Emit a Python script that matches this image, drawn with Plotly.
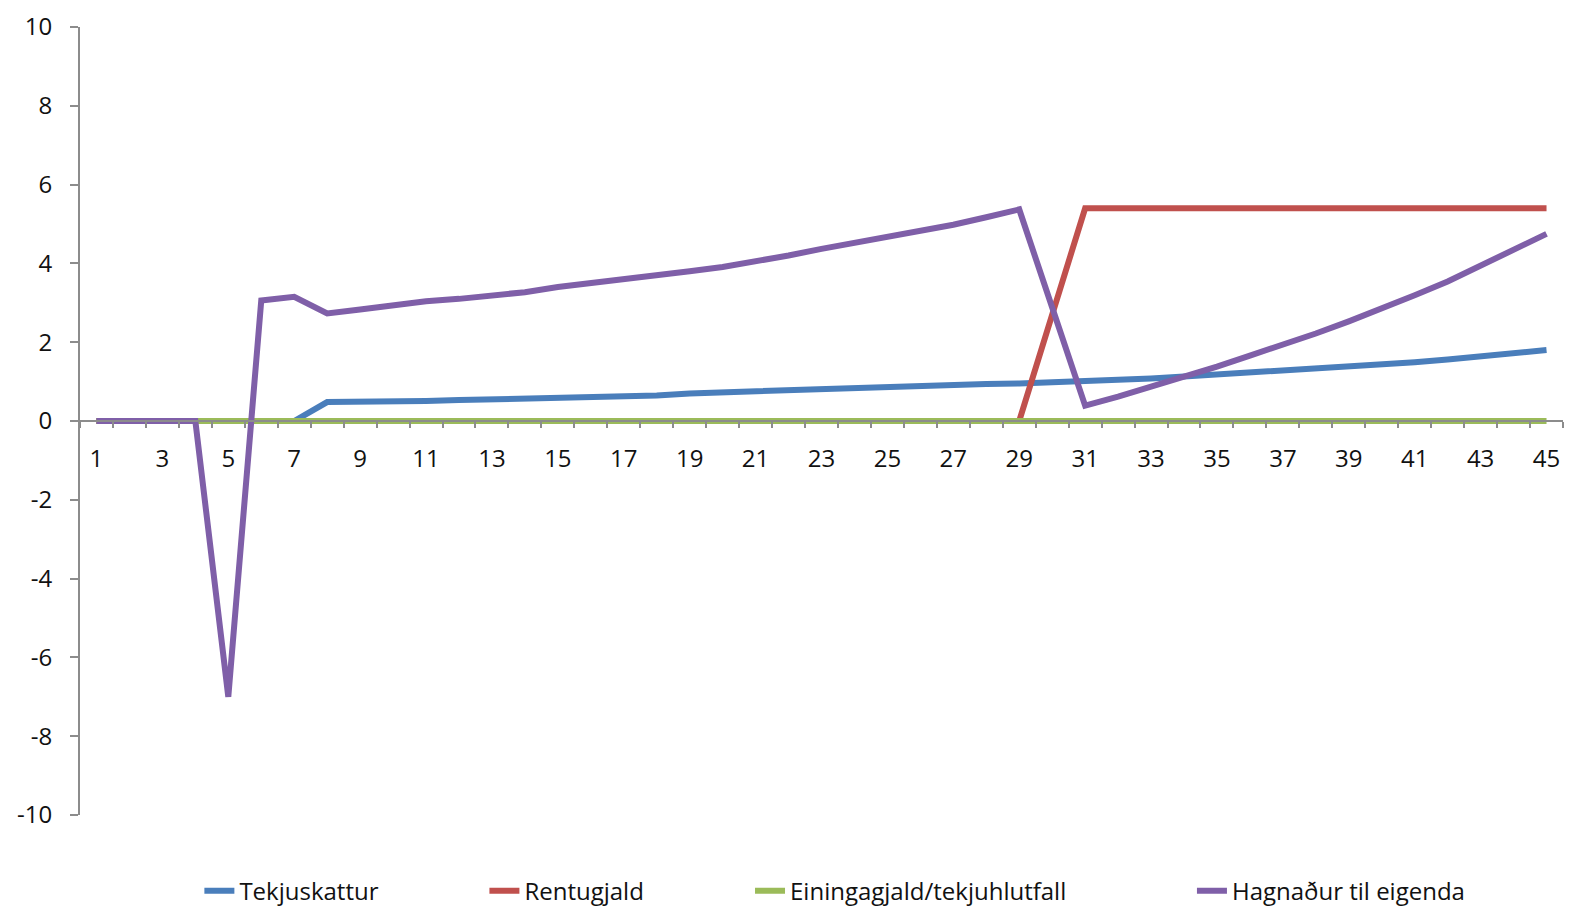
import plotly.graph_objects as go

periods = list(range(1, 46))

tekjuskattur = [0, 0, 0, 0, 0, 0, 0, 0.48, 0.48, 0.49, 0.51, 0.53, 0.55, 0.56, 0.58,
                0.60, 0.62, 0.65, 0.70, 0.73, 0.76, 0.79, 0.81, 0.85, 0.87, 0.90, 0.92,
                0.94, 0.95, 0.98, 1.00, 1.04, 1.08, 1.13, 1.18, 1.22, 1.27, 1.32, 1.38,
                1.43, 1.49, 1.56, 1.63, 1.71, 1.80]

rentugjald = [0] * 29 + [2.7] + [5.4] * 15

einingagjald = [0] * 45

hagnadur = [0, 0, 0, 0, -7.0, 3.06, 3.15, 2.73, 2.83, 2.95, 3.04, 3.10, 3.17, 3.27, 3.40,
            3.50, 3.57, 3.68, 3.80, 3.91, 4.05, 4.20, 4.37, 4.52, 4.66, 4.83, 4.98,
            5.17, 5.37, 2.88, 0.39, 0.62, 0.87, 1.12, 1.38, 1.66, 1.93, 2.22, 2.53,
            2.85, 3.19, 3.54, 3.95, 4.35, 4.75]

series_names = ["Tekjuskattur", "Rentugjald", "Einingagjald/tekjuhlutfall", "Hagnaður til eigenda"]
series_values = [tekjuskattur, rentugjald, einingagjald, hagnadur]
series_colors = ["#4A7EBB", "#C0504D", "#9BBB59", "#7F5FA8"]
legend_ids = ["legend", "legend2", "legend3", "legend4"]
legend_x = [0.0805, 0.2727, 0.4518, 0.7498]

x_tickvals = list(range(1, 46, 2))
y_tickvals = list(range(-10, 11, 2))

FONT = "Open Sans"
AXIS_GRAY = "#8C8C8C"
TEXT = "#111111"

fig = go.Figure()
for name, vals, col, lg in zip(series_names, series_values, series_colors, legend_ids):
    fig.add_trace(go.Scatter(
        x=periods, y=vals, mode="lines", name=name,
        line=dict(color=col, width=6),
        legend=lg,
    ))

layout_legends = {}
for lg, lx in zip(legend_ids, legend_x):
    layout_legends[lg] = dict(
        orientation="h", x=lx, y=-0.0965, xanchor="left", yanchor="middle",
        font=dict(family=FONT, size=24, color=TEXT),
        bgcolor="rgba(0,0,0,0)", borderwidth=0,
    )

fig.update_layout(
    width=1566, height=901,
    margin=dict(l=72, r=11, t=19, b=94, autoexpand=False),
    paper_bgcolor="white", plot_bgcolor="white",
    font=dict(family=FONT, size=24, color=TEXT),
    showlegend=True,
    **layout_legends,
)

fig.update_xaxes(
    range=[0.5, 45.5], automargin=False,
    tickvals=x_tickvals, ticktext=[str(v) for v in x_tickvals],
    ticks="", showgrid=False, zeroline=False,
    showline=True, linecolor=AXIS_GRAY, linewidth=2,
    anchor="free", position=0.5,
    ticklabelstandoff=16, ticklabeloverflow="allow",
    tickfont=dict(family=FONT, size=24, color=TEXT),
    minor=dict(tick0=0.5, dtick=1, ticks="outside", ticklen=6,
               tickcolor=AXIS_GRAY, tickwidth=2, showgrid=False),
)

fig.update_yaxes(
    range=[-10, 10], domain=[0, 1], automargin=False,
    tickvals=y_tickvals, ticktext=[str(v) for v in y_tickvals],
    ticks="outside", ticklen=8, tickcolor=AXIS_GRAY, tickwidth=2,
    showgrid=False, zeroline=False,
    showline=True, linecolor=AXIS_GRAY, linewidth=2,
    ticklabelstandoff=13, ticklabeloverflow="allow",
    tickfont=dict(family=FONT, size=24, color=TEXT),
)

fig.write_html("out.html")
